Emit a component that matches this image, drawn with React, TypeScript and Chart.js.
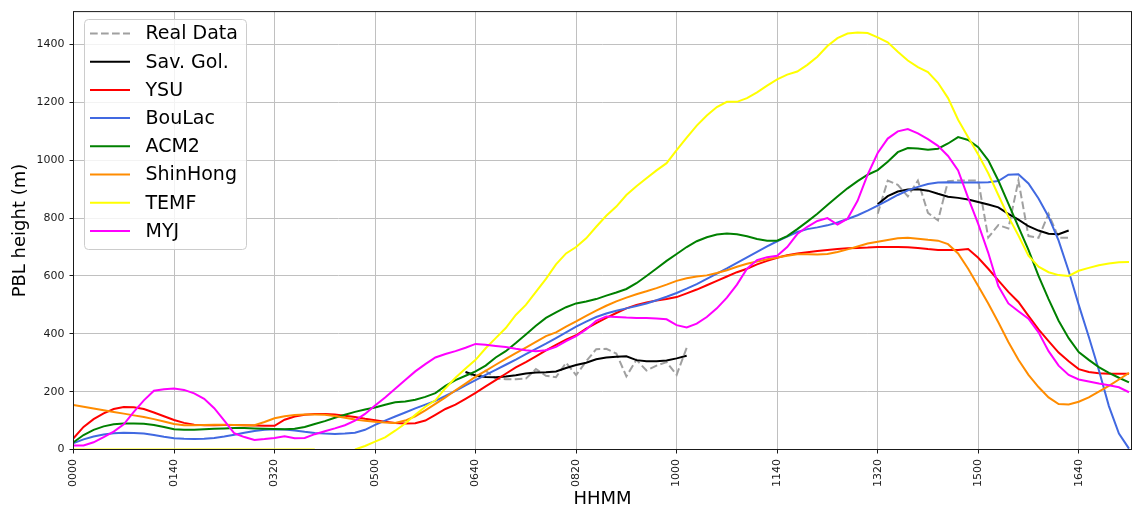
import React, { useEffect, useRef } from 'react';
import { Chart, registerables } from 'chart.js';

Chart.register(...registerables);

const FONT = '"DejaVu Sans", "Liberation Sans", sans-serif';

// Samples are every 10 minutes starting at 0000
const SAMPLE_STEP_MIN = 10;
const X_TICK_LABELS = ['0000', '0140', '0320', '0500', '0640', '0820', '1000', '1140', '1320', '1500', '1640'];
const Y_TICKS = [0, 200, 400, 600, 800, 1000, 1200, 1400];
const X_MAX_MIN = 1052.5;
const Y_MAX = 1514;

// Observed PBL height (two observation windows)
const realDataStart1 = '0630';
const realData1 = [268, 250, 272, 245, 243, 243, 245, 278, 255, 250, 300, 257, 305, 347, 348, 332, 253, 310, 273, 290, 302, 258, 352];
const realDataStart2 = '1320';
const realData2 = [815, 930, 915, 875, 930, 818, 792, 928, 930, 930, 930, 733, 776, 764, 930, 738, 732, 815, 732, 732];

// Savitzky-Golay smoothed observations
const savGol1 = [268, 256, 251, 250, 252, 257, 263, 266, 267, 270, 282, 292, 300, 312, 318, 321, 322, 309, 305, 305, 308, 315, 324];
const savGol2 = [848, 876, 892, 899, 900, 895, 884, 874, 870, 864, 856, 847, 837, 815, 795, 772, 757, 746, 744, 757];

// WRF PBL schemes, one value per sample from 0000
const ysu = [
  39, 78, 105, 125, 140, 147, 146, 140, 128, 115,
  102, 92, 86, 84, 84, 85, 85, 84, 83, 82,
  82, 103, 114, 120, 123, 123, 121, 117, 112, 106,
  101, 96, 92, 90, 91, 100, 120, 140, 155, 175,
  196, 218, 240, 262, 284, 302, 322, 343, 362, 380,
  395, 418, 437, 455, 472, 488, 500, 508, 515, 520,
  527, 540, 553, 568, 583, 598, 613, 625, 640, 652,
  663, 672, 678, 682, 686, 690, 693, 696, 697, 698,
  700, 700, 700, 699, 697, 693, 690, 690, 690, 693,
  663, 625, 585, 545, 510, 462, 415, 375, 335, 305,
  278, 268, 264, 262, 262, 262,
];

const bouLac = [
  22, 35, 45, 52, 56, 58, 57, 55, 50, 44,
  39, 37, 36, 37, 40, 45, 51, 58, 64, 68,
  70, 69, 66, 61, 57, 55, 54, 55, 58, 68,
  85, 100, 114, 128, 142, 155, 168, 185, 203, 222,
  240, 258, 275, 293, 311, 330, 348, 366, 385, 405,
  425, 442, 458, 470, 480, 488, 496, 505, 516, 528,
  541, 556, 572, 590, 608, 626, 645, 664, 683, 702,
  720, 736, 752, 762, 768, 775, 785, 797, 810, 826,
  843, 861, 880, 896, 908, 918, 923, 924, 923, 923,
  923, 924, 928, 950, 952, 920, 868, 805, 722, 617,
  500, 390, 275, 150, 55, 3,
];

const acm2 = [
  25, 50, 68, 80, 87, 90, 90, 89, 85, 78,
  70, 68, 68, 70, 72, 73, 74, 74, 73, 72,
  71, 70, 72, 78, 88, 98, 110, 120, 130, 138,
  145, 155, 163, 166, 172, 182, 195, 220, 240, 255,
  270, 290, 318, 340, 368, 398, 428, 455, 474, 492,
  505, 512, 520, 532, 543, 555, 575, 600, 626, 652,
  676, 700, 720, 734, 743, 747, 744, 737, 728, 722,
  722, 738, 762, 788, 815, 845, 875, 903, 928, 950,
  966, 995, 1028, 1042, 1041, 1036, 1040, 1058, 1080, 1070,
  1045, 1000, 930, 850, 770, 690, 600, 520, 445, 385,
  337, 310, 285, 265, 248, 232,
];

const shinHong = [
  154, 148, 142, 136, 130, 124, 118, 112, 105, 97,
  88, 84, 84, 85, 86, 86, 85, 84, 84, 95,
  108, 115, 119, 121, 121, 120, 116, 110, 104, 99,
  96, 93, 92, 100, 115, 135, 158, 180, 205, 228,
  252, 272, 293, 313, 333, 352, 372, 392, 405, 425,
  443, 462, 480, 497, 512, 525, 537, 547, 558, 570,
  583, 592, 598, 602, 610, 620, 632, 642, 650, 658,
  664, 670, 675, 675, 674, 676, 683, 692, 702, 712,
  718, 724, 730, 732, 729, 725, 722, 710, 678, 625,
  565, 505, 440, 372, 310, 258, 216, 180, 157, 156,
  165, 180, 200, 220, 242, 265,
];

const temf = [
  0, 0, 0, 0, 0, 0, 0, 0, 0, 0,
  0, 0, 0, 0, 0, 0, 0, 0, 0, 0,
  0, 0, 0, 0, 0, null, null, null, 0, 12,
  27, 42, 65, 90, 120, 148, 170, 212, 248, 280,
  310, 350, 385, 420, 465, 500, 545, 590, 640, 678,
  700, 730, 770, 808, 840, 880, 910, 938, 965, 990,
  1035, 1078, 1120, 1155, 1184, 1202, 1202, 1215, 1235, 1258,
  1280, 1296, 1307, 1330, 1358, 1395, 1422, 1438, 1442, 1440,
  1425, 1408, 1375, 1345, 1322, 1305, 1268, 1215, 1140, 1080,
  1020, 955, 880, 805, 740, 670, 632, 613, 603, 600,
  618, 628, 637, 643, 647, 648,
];

const myj = [
  14, 14, 25, 43, 62, 87, 130, 170, 203, 208,
  211, 206, 194, 175, 143, 100, 56, 43, 33, 36,
  40, 46, 39, 40, 53, 63, 73, 84, 100, 123,
  152, 180, 210, 240, 270, 295, 318, 330, 340, 352,
  365, 362, 358, 354, 348, 343, 340, 343, 355, 375,
  392, 415, 445, 460, 458, 456, 455, 455, 453, 450,
  430, 422, 435, 458, 488, 525, 570, 625, 655, 665,
  670, 700, 745, 770, 790, 800, 778, 798, 860, 950,
  1025, 1075, 1100, 1108, 1093, 1073, 1050, 1015, 965, 870,
  780, 680, 565, 505, 478, 452, 405, 340, 290, 258,
  242, 235, 228, 222, 215, 198,
];

const hhmmToMin = (s: string) => parseInt(s.slice(0, 2), 10) * 60 + parseInt(s.slice(2), 10);

type Pt = { x: number; y: number | null };

const fullSeries = (vals: (number | null)[]): Pt[] =>
  vals.map((v, i) => ({ x: i * SAMPLE_STEP_MIN, y: v }));

const segmentedSeries = (segs: [string, number[]][]): Pt[] => {
  const pts: Pt[] = [];
  segs.forEach(([start, vals], k) => {
    const t0 = hhmmToMin(start);
    if (k > 0 && pts.length) {
      const lastX = pts[pts.length - 1].x;
      pts.push({ x: (lastX + t0) / 2, y: null });
    }
    vals.forEach((v, i) => pts.push({ x: t0 + i * SAMPLE_STEP_MIN, y: v }));
  });
  return pts;
};

const LINE_W = 2;

// Legend drawn inside the plot, upper-left, as a framed box
const boxLegend = {
  id: 'boxLegend',
  afterDraw(chart: any) {
    const ctx = chart.ctx as CanvasRenderingContext2D;
    const x0 = 84.5, y0 = 19.5, w = 162, h = 230, r = 4;
    ctx.save();
    ctx.beginPath();
    ctx.moveTo(x0 + r, y0);
    ctx.lineTo(x0 + w - r, y0);
    ctx.arcTo(x0 + w, y0, x0 + w, y0 + r, r);
    ctx.lineTo(x0 + w, y0 + h - r);
    ctx.arcTo(x0 + w, y0 + h, x0 + w - r, y0 + h, r);
    ctx.lineTo(x0 + r, y0 + h);
    ctx.arcTo(x0, y0 + h, x0, y0 + h - r, r);
    ctx.lineTo(x0, y0 + r);
    ctx.arcTo(x0, y0, x0 + r, y0, r);
    ctx.closePath();
    ctx.fillStyle = 'rgba(255,255,255,0.8)';
    ctx.fill();
    ctx.strokeStyle = '#cccccc';
    ctx.lineWidth = 1;
    ctx.stroke();

    chart.data.datasets.forEach((ds: any, k: number) => {
      const y = 33.5 + k * 28.2;
      ctx.beginPath();
      ctx.setLineDash(ds.borderDash || []);
      ctx.strokeStyle = ds.borderColor;
      ctx.lineWidth = ds.borderWidth;
      ctx.moveTo(90, y);
      ctx.lineTo(130, y);
      ctx.stroke();
      ctx.setLineDash([]);
      ctx.fillStyle = '#000000';
      ctx.font = `19px ${FONT}`;
      ctx.textAlign = 'left';
      ctx.textBaseline = 'middle';
      ctx.fillText(ds.label, 145.5, y + 1);
    });
    ctx.restore();
  },
};

// Full axes frame drawn above the data lines
const axesFrame = {
  id: 'axesFrame',
  afterDatasetsDraw(chart: any) {
    const { left, top, right, bottom } = chart.chartArea;
    const ctx = chart.ctx as CanvasRenderingContext2D;
    ctx.save();
    ctx.strokeStyle = '#1a1a1a';
    ctx.lineWidth = 1;
    ctx.strokeRect(left, top, right - left, bottom - top);
    ctx.restore();
  },
};

export default function App() {
  const canvasRef = useRef<HTMLCanvasElement | null>(null);

  useEffect(() => {
    document.body.style.margin = '0';
    const canvas = canvasRef.current;
    if (!canvas) return;

    const defs = [
      { label: 'Real Data', data: segmentedSeries([[realDataStart1, realData1], [realDataStart2, realData2]]), color: '#a0a0a0', dash: [7.7, 3.3] },
      { label: 'Sav. Gol.', data: segmentedSeries([[realDataStart1, savGol1], [realDataStart2, savGol2]]), color: '#000000' },
      { label: 'YSU', data: fullSeries(ysu), color: '#ff0000' },
      { label: 'BouLac', data: fullSeries(bouLac), color: '#4169e1' },
      { label: 'ACM2', data: fullSeries(acm2), color: '#008000' },
      { label: 'ShinHong', data: fullSeries(shinHong), color: '#ff8c00' },
      { label: 'TEMF', data: fullSeries(temf), color: '#ffff00' },
      { label: 'MYJ', data: fullSeries(myj), color: '#ff00ff' },
    ];

    const datasets = defs.map((d, i) => ({
      label: d.label,
      data: d.data,
      borderColor: d.color,
      backgroundColor: d.color,
      borderWidth: LINE_W,
      borderDash: d.dash || [],
      pointRadius: 0,
      tension: 0,
      fill: false,
      spanGaps: false,
      clip: 0,
      order: defs.length - 1 - i,
    }));

    const tickFont = { family: FONT, size: 11 };
    const titleFont = { family: FONT, size: 18, lineHeight: 1.0 };

    const chart = new Chart(canvas, {
      type: 'line',
      data: { datasets },
      plugins: [axesFrame, boxLegend],
      options: {
        animation: false,
        responsive: false,
        events: [],
        layout: { padding: { top: 9.5, right: 0.5, left: 0, bottom: 0 } },
        plugins: {
          legend: { display: false },
          tooltip: { enabled: false },
        },
        scales: {
          x: {
            type: 'linear',
            min: 0,
            max: X_MAX_MIN,
            afterBuildTicks: (s: any) => {
              s.ticks = X_TICK_LABELS.map((l) => ({ value: hhmmToMin(l) }));
            },
            afterFit: (s: any) => {
              s.height = 58.5;
            },
            ticks: {
              autoSkip: false,
              minRotation: 90,
              maxRotation: 90,
              padding: 5.5,
              color: '#1a1a1a',
              font: tickFont,
              callback: (v: any) => {
                const m = Number(v);
                const label = X_TICK_LABELS.find((l) => hhmmToMin(l) === m);
                return label ?? '';
              },
            },
            grid: {
              color: '#c0c0c0',
              lineWidth: 1,
              drawTicks: true,
              tickLength: 4,
              tickColor: '#1a1a1a',
              tickWidth: 1,
            },
            border: { display: false },
            title: {
              display: true,
              text: 'HHMM',
              color: '#000000',
              font: titleFont,
              padding: { top: 0, bottom: 0 },
            },
          },
          y: {
            type: 'linear',
            min: 0,
            max: Y_MAX,
            afterBuildTicks: (s: any) => {
              s.ticks = Y_TICKS.map((v) => ({ value: v }));
            },
            afterFit: (s: any) => {
              s.width = 73.5;
            },
            ticks: {
              padding: 5,
              color: '#1a1a1a',
              font: tickFont,
              callback: (v: any) => String(v),
            },
            grid: {
              color: '#c0c0c0',
              lineWidth: 1,
              drawTicks: true,
              tickLength: 4,
              tickColor: '#1a1a1a',
              tickWidth: 1,
            },
            border: { display: false },
            title: {
              display: true,
              text: 'PBL height (m)',
              color: '#000000',
              font: titleFont,
              padding: { top: 11, bottom: 0 },
            },
          },
        },
      },
    } as any);

    return () => chart.destroy();
  }, []);

  return (
    <div style={{ width: 1132, height: 508 }}>
      <canvas ref={canvasRef} width={1132} height={508} />
    </div>
  );
}
